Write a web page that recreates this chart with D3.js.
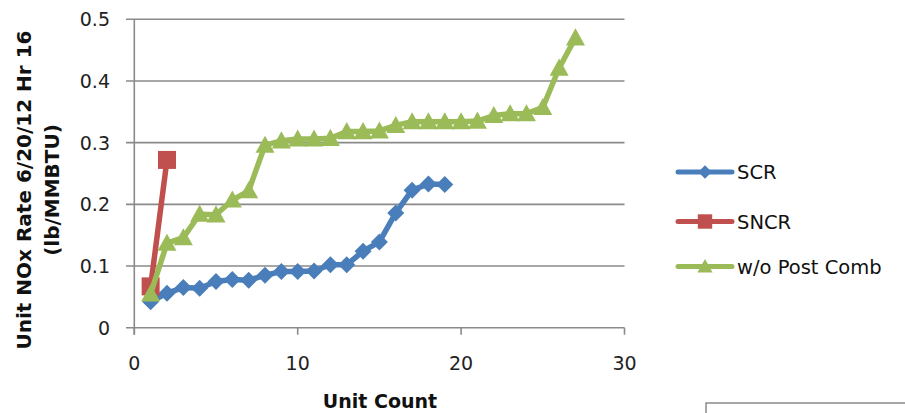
<!DOCTYPE html>
<html>
<head>
<meta charset="utf-8">
<script src="https://cdn.jsdelivr.net/npm/d3@7"></script>
<style>
  html, body { margin: 0; padding: 0; background: #fff; }
  svg { display: block; font-family: "DejaVu Sans", Verdana, sans-serif; }
</style>
</head>
<body>
<svg id="chart" width="905" height="413"></svg>
<script>
// Unit NOx emission rates, sorted per control type
const scrUnits  = [1,2,3,4,5,6,7,8,9,10,11,12,13,14,15,16,17,18,19];
const scrRates  = [0.042,0.056,0.065,0.064,0.075,0.078,0.077,0.085,0.091,0.091,0.092,0.102,0.102,0.124,0.139,0.186,0.223,0.233,0.232];

const sncrUnits = [1,2];
const sncrRates = [0.067,0.272];

const woUnits   = [1,2,3,4,5,6,7,8,9,10,11,12,13,14,15,16,17,18,19,20,21,22,23,24,25,26,27];
const woRates   = [0.055,0.137,0.146,0.184,0.183,0.207,0.222,0.296,0.303,0.306,0.306,0.307,0.318,0.318,0.319,0.328,0.334,0.334,0.334,0.334,0.335,0.344,0.347,0.347,0.357,0.421,0.470];

const seriesNames = ["SCR", "SNCR", "w/o Post Comb"];
const xTicks = [0, 10, 20, 30];
const yTicks = [0, 0.1, 0.2, 0.3, 0.4, 0.5];

const svg = d3.select("#chart");
const x = d3.scaleLinear().domain([0, 30]).range([134.3, 624.5]);
const y = d3.scaleLinear().domain([0, 0.5]).range([327.7, 19.3]);

const gridColor = "#8a8a8a";

// horizontal gridlines with left tick stubs
svg.append("g").selectAll("line").data(yTicks).join("line")
  .attr("x1", 126).attr("x2", x(30))
  .attr("y1", d => y(d)).attr("y2", d => y(d))
  .attr("stroke", gridColor).attr("stroke-width", 1.6);

// vertical axis line
svg.append("line")
  .attr("x1", x(0)).attr("x2", x(0)).attr("y1", y(0.5)).attr("y2", y(0) + 7)
  .attr("stroke", gridColor).attr("stroke-width", 1.6);

// x tick marks
svg.append("g").selectAll("line").data(xTicks).join("line")
  .attr("x1", d => x(d)).attr("x2", d => x(d))
  .attr("y1", y(0)).attr("y2", y(0) + 7)
  .attr("stroke", gridColor).attr("stroke-width", 1.6);

// tick labels
svg.append("g").selectAll("text").data(yTicks).join("text")
  .attr("x", 110).attr("y", d => y(d))
  .attr("dy", "0.36em")
  .attr("text-anchor", "end")
  .attr("font-size", 19).attr("fill", "#222")
  .text(d => d === 0 ? "0" : d3.format(".1f")(d));

svg.append("g").selectAll("text").data(xTicks).join("text")
  .attr("x", d => x(d)).attr("y", 370)
  .attr("text-anchor", "middle")
  .attr("font-size", 19).attr("fill", "#222")
  .text(d => d);

// axis titles
svg.append("text")
  .attr("x", 380).attr("y", 408)
  .attr("text-anchor", "middle")
  .attr("font-size", 19).attr("font-weight", "bold").attr("fill", "#111")
  .text("Unit Count");

const yTitle = svg.append("text")
  .attr("transform", "translate(0,190) rotate(-90)")
  .attr("text-anchor", "middle")
  .attr("font-size", 20).attr("font-weight", "bold").attr("fill", "#111");
yTitle.append("tspan").attr("x", 0).attr("y", 31).text("Unit NOx Rate 6/20/12 Hr 16");
yTitle.append("tspan").attr("x", 0).attr("y", 59).text("(lb/MMBTU)");

// marker shapes
const diamond = s => `M0,${-s}L${s},0L0,${s}L${-s},0Z`;
const square = s => `M${-s},${-s}H${s}V${s}H${-s}Z`;
const triangle = s => `M0,${-s}L${s},${s * 0.8}L${-s},${s * 0.8}Z`;

const series = [
  { name: seriesNames[0], xs: scrUnits,  ys: scrRates,  color: "#4a7ebb", shape: diamond,  size: 8.5 },
  { name: seriesNames[1], xs: sncrUnits, ys: sncrRates, color: "#c0504d", shape: square,   size: 9 },
  { name: seriesNames[2], xs: woUnits,   ys: woRates,   color: "#9bbb59", shape: triangle, size: 9.5 }
];

const line = d3.line().x(d => x(d[0])).y(d => y(d[1]));

series.forEach(s => {
  const pts = s.xs.map((u, i) => [u, s.ys[i]]);
  const g = svg.append("g");
  g.append("path")
    .attr("d", line(pts))
    .attr("fill", "none").attr("stroke", s.color)
    .attr("stroke-width", 5.5).attr("stroke-linejoin", "round");
  g.selectAll("path.m").data(pts).join("path")
    .attr("class", "m")
    .attr("transform", d => `translate(${x(d[0])},${y(d[1])})`)
    .attr("d", s.shape(s.size))
    .attr("fill", s.color);
});

// legend
const legendY = [172, 221.5, 266.5];
series.forEach((s, i) => {
  const g = svg.append("g").attr("transform", `translate(0,${legendY[i]})`);
  g.append("line").attr("x1", 678).attr("x2", 732)
    .attr("stroke", s.color).attr("stroke-width", 5).attr("stroke-linecap", "round");
  g.append("path").attr("transform", "translate(705,0)")
    .attr("d", s.shape(s.size * 0.8)).attr("fill", s.color);
  g.append("text").attr("x", 737).attr("dy", "0.36em")
    .attr("font-size", 19.5).attr("fill", "#111")
    .text(s.name);
});

// partial frame of the neighbouring panel
svg.append("rect")
  .attr("x", 706).attr("y", 403).attr("width", 220).attr("height", 30)
  .attr("fill", "#fff").attr("stroke", "#8a8a8a").attr("stroke-width", 1.5);
</script>
</body>
</html>
